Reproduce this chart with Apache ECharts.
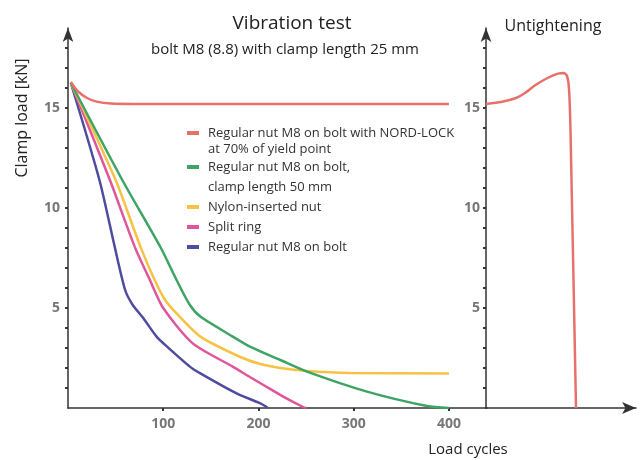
<!DOCTYPE html>
<html>
<head>
<meta charset="utf-8">
<script src="https://cdn.jsdelivr.net/npm/echarts@6.0.0/dist/echarts.min.js"></script>
<style>
html,body{margin:0;padding:0;background:#fff;}
#chart{width:641px;height:460px;}
</style>
</head>
<body>
<div id="chart"></div>
<script>
// ---- data (x = load cycles, y = clamp load kN) ----
const seriesNames = [
  'Regular nut M8 on bolt with NORD-LOCK at 70% of yield point',
  'Regular nut M8 on bolt, clamp length 50 mm',
  'Nylon-inserted nut',
  'Split ring',
  'Regular nut M8 on bolt'
];
const seriesColors = ['#e8706a', '#3ea463', '#f5c244', '#e0569c', '#4d4c9e'];

const nordLock = [[3,16.3],[10,15.85],[20,15.5],[30,15.32],[45,15.22],[70,15.2],[400,15.2]];
const regular50 = [[3,16.25],[57,11.4],[97,8.05],[114,6.4],[128,5.15],[139,4.57],[173,3.57],[191,3.07],[223,2.4],[251,1.82],[314,0.82],[377,0.1],[400,0]];
const nylon = [[3,16.25],[50,11.4],[76,8.07],[91,6.4],[102,5.4],[114,4.73],[139,3.57],[181,2.55],[202,2.2],[223,2.0],[251,1.85],[296,1.75],[400,1.73]];
const splitRing = [[3,16.25],[44,11.4],[70,8.07],[86,6.4],[100,5.0],[131,3.23],[173,2.07],[191,1.55],[207,1.1],[226,0.57],[247,0.05],[250,0]];
const regular = [[3,16.25],[33,11.4],[49,8.07],[60,5.9],[68,5.15],[79,4.5],[93,3.57],[104,3.07],[128,2.07],[139,1.73],[177,0.73],[202,0.23],[210,0]];
const leftSeries = [nordLock, regular50, nylon, splitRing, regular];

// Untightening panel (x: arbitrary progress units)
const untightening = [[0,15.2],[10,15.3],[20,15.5],[26,15.75],[33,16.15],[41,16.5],[48,16.72],[52,16.75],[54,16.6],[55.3,16.0],[56.3,14],[60,0]];

const xTickValues = [100, 200, 300, 400];
const yTickLabels = [5, 10, 15];
const yMinorTicks = [1,2,3,4,5,6,7,8,9,10,11,12,13,14,15,16,17,18];

const legendLines = [
  ['Regular nut M8 on bolt with NORD-LOCK', 'at 70% of yield point'],
  ['Regular nut M8 on bolt,', 'clamp length 50 mm'],
  ['Nylon-inserted nut'],
  ['Split ring'],
  ['Regular nut M8 on bolt']
];

const chart = echarts.init(document.getElementById('chart'), null, {renderer: 'canvas'});
const FONT = '"Open Sans", "Noto Sans", sans-serif';

const axisLineStyle = {color: '#333', width: 1.5};
const tickStyle = {color: '#333', width: 2};
const labelStyle = {color: '#777', fontSize: 14, fontWeight: 'bold', fontFamily: FONT};

// legend as graphic (keeps two-line layout of original)
const legendGraphics = [];
const legendRowsY = [[133, 149], [167, 187], [207], [227], [247]];
legendLines.forEach((lines, i) => {
  legendGraphics.push({
    type: 'rect', left: 187, top: legendRowsY[i][0] - 2,
    shape: {width: 12, height: 4}, style: {fill: seriesColors[i]}
  });
  lines.forEach((t, j) => {
    legendGraphics.push({
      type: 'text', x: 208, y: legendRowsY[i][j],
      style: {text: t, fill: '#333', font: '13px ' + FONT, verticalAlign: 'middle'}
    });
  });
});

const option = {
  backgroundColor: '#fff',
  animation: false,
  title: [
    {text: 'Vibration test', left: 287, top: 9, textAlign: 'center',
     textStyle: {fontSize: 19, fontWeight: 'normal', color: '#222', fontFamily: FONT}},
    {text: 'bolt M8 (8.8) with clamp length 25 mm', left: 280, top: 37, textAlign: 'center',
     textStyle: {fontSize: 15, fontWeight: 'normal', color: '#222', fontFamily: FONT}},
    {text: 'Untightening', left: 548, top: 13, textAlign: 'center',
     textStyle: {fontSize: 16, fontWeight: 'normal', color: '#222', fontFamily: FONT}}
  ],
  grid: [
    {left: 68, top: 28, width: 419, height: 380, containLabel: false},
    {left: 486, top: 28, width: 150, height: 380, containLabel: false}
  ],
  xAxis: [
    {gridIndex: 0, type: 'value', min: 0, max: 440,
     axisLine: {show: true, onZero: false, lineStyle: axisLineStyle},
     axisTick: {show: true, length: 3, customValues: xTickValues, lineStyle: tickStyle},
     axisLabel: {show: true, margin: 9, customValues: xTickValues, ...labelStyle},
     splitLine: {show: false}},
    {gridIndex: 1, type: 'value', min: 0, max: 100,
     axisLine: {show: true, onZero: false, lineStyle: axisLineStyle, symbol: ['none', 'arrow'], symbolSize: [9, 14], symbolOffset: [0, 0]},
     axisTick: {show: false}, axisLabel: {show: false}, splitLine: {show: false}}
  ],
  yAxis: [
    {gridIndex: 0, type: 'value', min: 0, max: 19,
     axisLine: {show: true, onZero: false, lineStyle: axisLineStyle, symbol: ['none', 'arrow'], symbolSize: [8, 14]},
     axisTick: {show: true, length: 3, customValues: yMinorTicks, lineStyle: tickStyle},
     axisLabel: {show: true, margin: 8, customValues: yTickLabels, ...labelStyle},
     splitLine: {show: false}},
    {gridIndex: 1, type: 'value', min: 0, max: 19,
     axisLine: {show: true, onZero: false, lineStyle: axisLineStyle, symbol: ['none', 'arrow'], symbolSize: [8, 14]},
     axisTick: {show: true, length: 3, customValues: yMinorTicks, lineStyle: tickStyle},
     axisLabel: {show: true, margin: 6, customValues: yTickLabels, ...labelStyle},
     splitLine: {show: false}}
  ],
  series: leftSeries.map((d, i) => ({
    name: seriesNames[i], type: 'line', xAxisIndex: 0, yAxisIndex: 0,
    data: d, smooth: 0.25, showSymbol: false, symbol: 'none',
    lineStyle: {color: seriesColors[i], width: 2.5}, z: 10 - i
  })).concat([{
    name: 'Untightening', type: 'line', xAxisIndex: 1, yAxisIndex: 1,
    data: untightening, smooth: 0.2, showSymbol: false, symbol: 'none',
    lineStyle: {color: seriesColors[0], width: 2.5}
  }]),
  graphic: [
    {type: 'text', x: 22, y: 118, rotation: Math.PI / 2,
     style: {text: 'Clamp load [kN]', fill: '#222', font: '16px ' + FONT, align: 'center', verticalAlign: 'middle'}},
    {type: 'text', x: 468, y: 450,
     style: {text: 'Load cycles', fill: '#222', font: '15px ' + FONT, align: 'center', verticalAlign: 'middle'}}
  ].concat(legendGraphics)
};
chart.setOption(option);
</script>
</body>
</html>
